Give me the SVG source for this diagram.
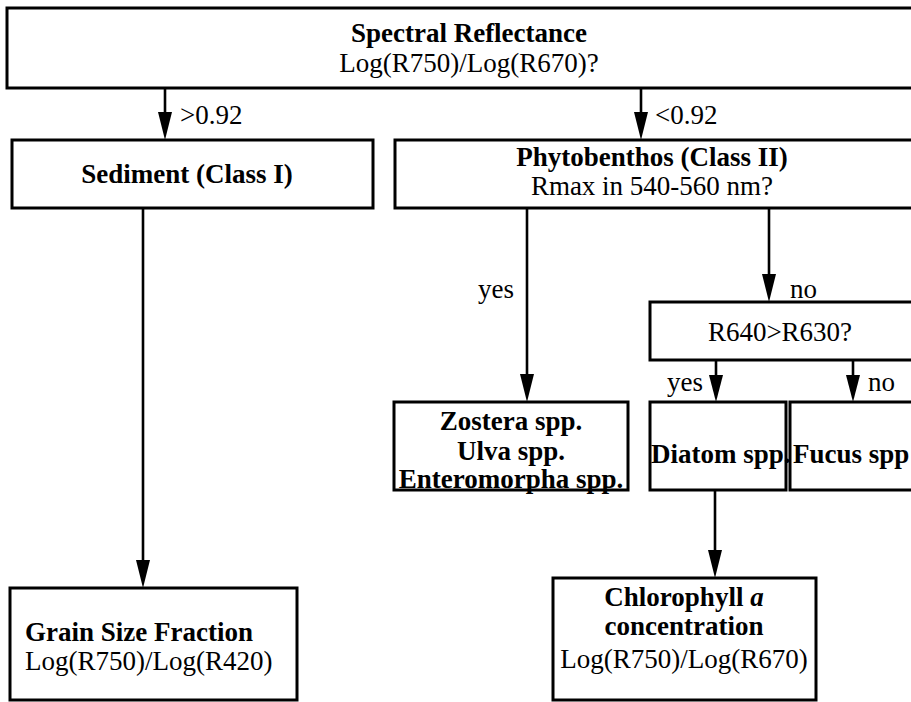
<svg xmlns="http://www.w3.org/2000/svg" width="911" height="702" viewBox="0 0 911 702">
<style>
.box{fill:#fff;stroke:#000;stroke-width:3}
.ln{fill:none;stroke:#000;stroke-width:2.6}
.ah{fill:#000}
text{font-family:"Liberation Serif","Times New Roman","DejaVu Serif",serif;font-size:27px;fill:#000}
.b{font-weight:bold}
.c{text-anchor:middle}
</style>
<rect width="911" height="702" fill="#fff"/>
<g id="connectors">
<line class="ln" x1="165" y1="88" x2="165" y2="115"/>
<path class="ah" d="M158,112 L172,112 L165,140 Z"/>
<line class="ln" x1="641" y1="88" x2="641" y2="115"/>
<path class="ah" d="M634,112 L648,112 L641,140 Z"/>
<line class="ln" x1="143" y1="208" x2="143" y2="563"/>
<path class="ah" d="M136,560 L150,560 L143,588 Z"/>
<line class="ln" x1="527" y1="208" x2="527" y2="377"/>
<path class="ah" d="M520,374 L534,374 L527,402 Z"/>
<line class="ln" x1="769" y1="208" x2="769" y2="277"/>
<path class="ah" d="M762,274 L776,274 L769,302 Z"/>
<line class="ln" x1="716" y1="360" x2="716" y2="377"/>
<path class="ah" d="M709,375 L723,375 L716,402 Z"/>
<line class="ln" x1="853" y1="360" x2="853" y2="377"/>
<path class="ah" d="M846,375 L860,375 L853,402 Z"/>
<line class="ln" x1="715" y1="490" x2="715" y2="553"/>
<path class="ah" d="M708,550 L722,550 L715,578 Z"/>
<text x="180" y="124">&gt;0.92</text>
<text x="655" y="124">&lt;0.92</text>
<text x="478" y="298">yes</text>
<text x="790" y="298">no</text>
<text x="667" y="391">yes</text>
<text x="868" y="391">no</text>
</g>
<g id="spectral">
<rect class="box" x="7" y="8" width="920" height="80"/>
<text class="b c" x="469" y="42">Spectral Reflectance</text>
<text class="c" x="469" y="72">Log(R750)/Log(R670)?</text>
</g>
<g id="sediment">
<rect class="box" x="12" y="140" width="361" height="68"/>
<text class="b c" x="187" y="183">Sediment (Class I)</text>
</g>
<g id="phytobenthos">
<rect class="box" x="395" y="140" width="530" height="68"/>
<text class="b c" x="652" y="166">Phytobenthos (Class II)</text>
<text class="c" x="652" y="195">Rmax in 540-560 nm?</text>
</g>
<g id="grain">
<rect class="box" x="10" y="588" width="287" height="112"/>
<text class="b" x="25" y="641">Grain Size Fraction</text>
<text x="25" y="670">Log(R750)/Log(R420)</text>
</g>
<g id="r640">
<rect class="box" x="650" y="302" width="280" height="58"/>
<text class="c" x="780" y="341">R640&gt;R630?</text>
</g>
<g id="zostera">
<rect class="box" x="394" y="402" width="234" height="88"/>
<text class="b c" x="511" y="430">Zostera spp.</text>
<text class="b c" x="511" y="460">Ulva spp.</text>
<text class="b c" x="511" y="488">Enteromorpha spp.</text>
</g>
<g id="diatom">
<rect class="box" x="650" y="402" width="136" height="88"/>
<text class="b" x="651" y="463">Diatom spp.</text>
</g>
<g id="fucus">
<rect class="box" x="790" y="402" width="140" height="88"/>
<text class="b" x="793" y="463">Fucus spp</text>
</g>
<g id="chlorophyll">
<rect class="box" x="553" y="578" width="263" height="122"/>
<text class="b c" x="684" y="606">Chlorophyll <tspan font-style="italic">a</tspan></text>
<text class="b c" x="684" y="635">concentration</text>
<text class="c" x="684" y="668">Log(R750)/Log(R670)</text>
</g>
</svg>
